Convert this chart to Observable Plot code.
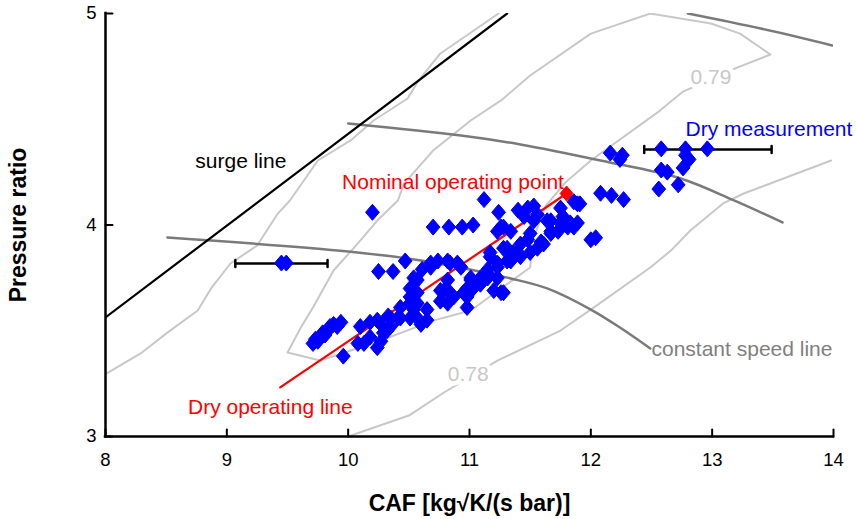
<!DOCTYPE html>
<html>
<head>
<meta charset="utf-8">
<script src="https://cdn.jsdelivr.net/npm/d3@7"></script>
<script src="https://cdn.jsdelivr.net/npm/@observablehq/plot@0.6"></script>
<style>
  html, body { margin: 0; padding: 0; background: #fff; }
  #chart svg { display: block; }
</style>
</head>
<body>
<div id="chart"></div>
<script>
// ---- axes ----
const xDomain = [8, 14];
const yDomain = [3, 5];
const xTicks = [8, 9, 10, 11, 12, 13, 14];
const yTicks = [3, 4, 5];
const xTitle = "CAF [kg\u221AK/(s bar)]";
const yTitle = "Pressure ratio";

// ---- surge line ----
const surgeX = [8.0, 11.31];
const surgeY = [3.563, 5.0];

// ---- dry operating line & nominal point ----
const opX = [9.44, 11.80];
const opY = [3.232, 4.149];
const nomX = [11.80];
const nomY = [4.149];

// ---- constant speed lines ----
const speed1X = [8.51, 10.00, 10.60, 11.34, 11.64, 12.00, 12.24, 12.49];
const speed1Y = [3.941, 3.875, 3.832, 3.747, 3.700, 3.600, 3.515, 3.416];
const speed2X = [10.00, 10.93, 11.42, 12.08, 12.74, 13.18, 13.58];
const speed2Y = [4.480, 4.423, 4.381, 4.305, 4.220, 4.116, 4.012];
const speed3X = [12.80, 13.40, 13.99];
const speed3Y = [5.000, 4.929, 4.849];

// ---- efficiency contours ----
const effAX = [8.01, 8.30, 8.51, 8.76, 8.87, 9.03, 9.25, 9.42, 9.52, 9.75, 10.02, 10.21, 10.49, 10.58, 10.76, 11.24];
const effAY = [3.298, 3.397, 3.491, 3.596, 3.700, 3.818, 3.903, 4.054, 4.116, 4.305, 4.400, 4.494, 4.598, 4.683, 4.811, 5.0];
const eff079X = [9.50, 9.61, 9.71, 9.88, 10.08, 10.24, 10.41, 10.46, 10.70, 11.01, 11.26, 11.50, 12.00, 12.49, 12.99, 13.23, 13.48, 13.21, 12.76, 12.57, 12.08, 12.00, 11.79, 11.63, 11.52, 11.50, 11.01, 10.70, 10.27, 9.77, 9.50];
const eff079Y = [3.397, 3.515, 3.610, 3.785, 3.913, 4.021, 4.116, 4.196, 4.352, 4.494, 4.589, 4.707, 4.905, 5.0, 4.953, 4.905, 4.806, 4.745, 4.631, 4.541, 4.338, 4.305, 4.201, 4.092, 3.927, 3.799, 3.596, 3.548, 3.454, 3.359, 3.397];
const eff078X = [10.00, 10.50, 10.79, 11.23, 11.75, 12.00, 12.49, 12.66, 12.82, 13.09, 13.26, 13.98];
const eff078Y = [3.000, 3.099, 3.208, 3.359, 3.501, 3.600, 3.799, 3.879, 3.974, 4.102, 4.149, 4.305];

// ---- dry measurements ----
const measX = [
  9.71, 9.73, 9.75, 9.77, 9.79, 9.81, 9.83, 9.85, 9.88, 9.91, 9.94, 9.96,
  9.45, 9.49, 10.20,
  10.70, 10.83, 10.94, 11.03, 10.25, 10.37, 10.47,
  10.08, 10.10, 10.13, 10.18, 10.18, 10.24, 10.24, 10.27, 10.27, 10.29, 10.32, 10.33, 10.35, 10.35, 10.41, 10.43, 10.43, 10.51, 10.51, 10.57, 10.60, 10.65,
  10.54, 10.57, 10.68, 10.82, 10.90, 11.01, 11.20, 11.28, 11.40, 11.50, 10.76, 10.82, 10.57, 10.51, 10.95, 10.98, 11.09, 11.15, 11.23, 11.34,
  10.54, 10.68, 10.93, 11.17, 11.28, 11.42, 11.15, 11.23, 11.03, 10.98, 10.84, 10.76, 10.51, 10.54, 11.26, 10.98, 11.34, 10.61, 10.74, 10.84,
  11.01, 11.09, 10.87, 10.79, 10.57, 10.65, 10.82, 11.31, 11.23, 11.15, 11.36, 11.31, 11.17,
  11.12, 11.24, 11.26, 11.34, 11.40, 11.48, 11.53, 11.56, 11.53, 11.67, 11.77, 11.89, 11.86, 11.61, 11.56, 12.00, 12.04, 11.50,
  11.67, 11.75, 11.83, 11.45, 11.64, 11.75, 11.86, 11.91, 11.89, 11.81, 11.73, 11.67, 11.59, 11.48, 11.42, 11.23, 11.28,
  12.08, 12.17, 12.27, 12.58, 12.78, 12.96, 12.78, 12.81, 12.76, 12.58, 12.63, 12.56, 12.72, 12.16, 12.26, 12.24
];
const measY = [
  3.44, 3.46, 3.45, 3.47, 3.49, 3.48, 3.50, 3.52, 3.53, 3.52, 3.54, 3.38,
  3.82, 3.82, 4.06,
  3.99, 3.99, 3.99, 4.00, 3.78, 3.78, 3.83,
  3.44, 3.52, 3.44, 3.47, 3.54, 3.42, 3.55, 3.45, 3.53, 3.49, 3.50, 3.57, 3.52, 3.56, 3.56, 3.61, 3.56, 3.63, 3.56, 3.56, 3.53, 3.55,
  3.69, 3.74, 3.82, 3.83, 3.82, 3.74, 3.69, 3.68, 3.87, 3.87, 3.64, 3.63, 3.68, 3.66, 3.68, 3.70, 3.75, 3.79, 3.82, 3.85,
  3.75, 3.80, 3.80, 3.85, 3.89, 3.85, 3.75, 3.75, 3.70, 3.66, 3.68, 3.69, 3.70, 3.60, 3.68, 3.61, 3.83, 3.79, 3.83, 3.82,
  3.75, 3.72, 3.66, 3.69, 3.63, 3.60, 3.74, 3.83, 3.80, 3.77, 3.87, 3.89, 3.87,
  4.12, 4.06, 3.99, 3.97, 4.07, 4.08, 4.09, 4.05, 4.02, 4.02, 4.04, 4.10, 3.99, 3.91, 3.89, 3.93, 3.94, 3.96,
  3.97, 4.01, 4.01, 4.04, 4.02, 4.08, 4.11, 4.10, 4.01, 3.99, 3.97, 3.96, 3.92, 3.93, 3.91, 3.97, 3.99,
  4.15, 4.14, 4.12, 4.36, 4.36, 4.36, 4.33, 4.31, 4.27, 4.26, 4.25, 4.17, 4.19, 4.34, 4.33, 4.31
];

// ---- error bars ----
const errLow = [9.07, 12.44];
const errHigh = [9.83, 13.49];
const errY = [3.818, 4.357];

// ---- annotations ----
const labels = [
  {text: "surge line", x: 8.74, y: 4.30, color: "#000000", anchor: "start"},
  {text: "Nominal operating point", x: 9.95, y: 4.201, color: "#ff0000", anchor: "start"},
  {text: "Dry operating line", x: 8.68, y: 3.137, color: "#ff0000", anchor: "start"},
  {text: "Dry measurement", x: 12.78, y: 4.452, color: "#0000ff", anchor: "start"},
  {text: "constant speed line", x: 12.50, y: 3.411, color: "#808080", anchor: "start"}
];
const contourLabels = [
  {text: "0.79", x: 12.99, y: 4.697},
  {text: "0.78", x: 10.99, y: 3.293}
];

// ---- helpers ----
const zip = (xs, ys) => xs.map((x, i) => ({x, y: ys[i]}));
const diamond = {
  draw(ctx, size) {
    const r = Math.sqrt(size / Math.PI);
    const w = r * 0.86;
    ctx.moveTo(0, -r); ctx.lineTo(w, 0); ctx.lineTo(0, r); ctx.lineTo(-w, 0); ctx.closePath();
  }
};
const lineShape = { draw(ctx, l) { ctx.moveTo(0, 0); ctx.lineTo(0, -l); } };
const meas = zip(measX, measY);
const errs = errY.map((y, i) => ({y, x1: errLow[i], x2: errHigh[i]}));
const caps = errs.flatMap(d => [{x: d.x1, y: d.y}, {x: d.x2, y: d.y}]);
const FONT = "'Liberation Sans', Arial, Helvetica, sans-serif";

const plot = Plot.plot({
  width: 856,
  height: 519,
  marginLeft: 105,
  marginRight: 23,
  marginTop: 13,
  marginBottom: 83,
  style: {fontFamily: FONT, fontSize: "18.5px", background: "#ffffff", color: "#000000", overflow: "visible"},
  x: {domain: xDomain, ticks: xTicks, label: null, tickFormat: d => String(d)},
  y: {domain: yDomain, ticks: yTicks, label: null, tickFormat: d => String(d)},
  marks: [
    // efficiency contours
    Plot.line(zip(effAX, effAY), {x: "x", y: "y", stroke: "#c8c8c8", strokeWidth: 2, clip: true}),
    Plot.line(zip(eff079X, eff079Y), {x: "x", y: "y", stroke: "#c8c8c8", strokeWidth: 2, clip: true}),
    Plot.line(zip(eff078X, eff078Y), {x: "x", y: "y", stroke: "#c8c8c8", strokeWidth: 2, clip: true}),
    Plot.text(contourLabels, {x: "x", y: "y", text: "text", fill: "#c8c8c8", stroke: "white", strokeWidth: 9, fontSize: 21, textAnchor: "middle"}),
    // constant speed lines
    Plot.line(zip(speed1X, speed1Y), {x: "x", y: "y", stroke: "#7a7a7a", strokeWidth: 2.5, curve: "catmull-rom", clip: true}),
    Plot.line(zip(speed2X, speed2Y), {x: "x", y: "y", stroke: "#7a7a7a", strokeWidth: 2.5, curve: "catmull-rom", clip: true}),
    Plot.line(zip(speed3X, speed3Y), {x: "x", y: "y", stroke: "#7a7a7a", strokeWidth: 2.5, curve: "catmull-rom", clip: true}),
    // surge line
    Plot.line(zip(surgeX, surgeY), {x: "x", y: "y", stroke: "#000000", strokeWidth: 2.2, clip: true}),
    // dry operating line
    Plot.line(zip(opX, opY), {x: "x", y: "y", stroke: "#ff0000", strokeWidth: 2.2}),
    // error bars
    Plot.ruleY(errs, {y: "y", x1: "x1", x2: "x2", stroke: "#000000", strokeWidth: 2.5}),
    Plot.vector(caps, {x: "x", y: "y", length: 7, rotate: 0, anchor: "middle", shape: lineShape, stroke: "#000000", strokeWidth: 2.5}),
    // measurements
    Plot.dot(meas, {x: "x", y: "y", symbol: diamond, r: 8, fill: "#0000ff", stroke: "#0000ff", strokeWidth: 1}),
    // nominal operating point
    Plot.dot(zip(nomX, nomY), {x: "x", y: "y", symbol: diamond, r: 7.5, fill: "#ff0000", stroke: "#ff0000", strokeWidth: 1}),
    // annotations
    ...labels.map(d => Plot.text([d], {x: "x", y: "y", text: "text", fill: d.color, textAnchor: d.anchor, lineAnchor: "middle", fontSize: 21})),
    // axes
    Plot.ruleY([yDomain[0]], {stroke: "#000000", strokeWidth: 2.5, strokeLinecap: "square"}),
    Plot.ruleX([xDomain[0]], {stroke: "#000000", strokeWidth: 2.5, strokeLinecap: "square"}),
    Plot.vector(xTicks, {x: d => d, frameAnchor: "bottom", length: 7, rotate: 0, anchor: "start", shape: lineShape, stroke: "#000000", strokeWidth: 2}),
    Plot.vector(yTicks, {y: d => d, frameAnchor: "left", length: 7, rotate: 90, anchor: "start", shape: lineShape, stroke: "#000000", strokeWidth: 2}),
    Plot.axisX(xTicks, {tickSize: 0, tickPadding: 16, fontSize: 18.5, label: null, tickFormat: d => String(d)}),
    Plot.axisY(yTicks, {tickSize: 0, tickPadding: 9, fontSize: 18.5, label: null, tickFormat: d => String(d)}),
    Plot.text([xTitle], {frameAnchor: "bottom", dy: 67, textAnchor: "middle", lineAnchor: "middle", fontWeight: "bold", fontSize: 23, fill: "#000000"}),
    Plot.text([yTitle], {frameAnchor: "left", dx: -87, rotate: -90, textAnchor: "middle", lineAnchor: "middle", fontWeight: "bold", fontSize: 23, fill: "#000000"})
  ]
});
document.getElementById("chart").appendChild(plot);
</script>
</body>
</html>
